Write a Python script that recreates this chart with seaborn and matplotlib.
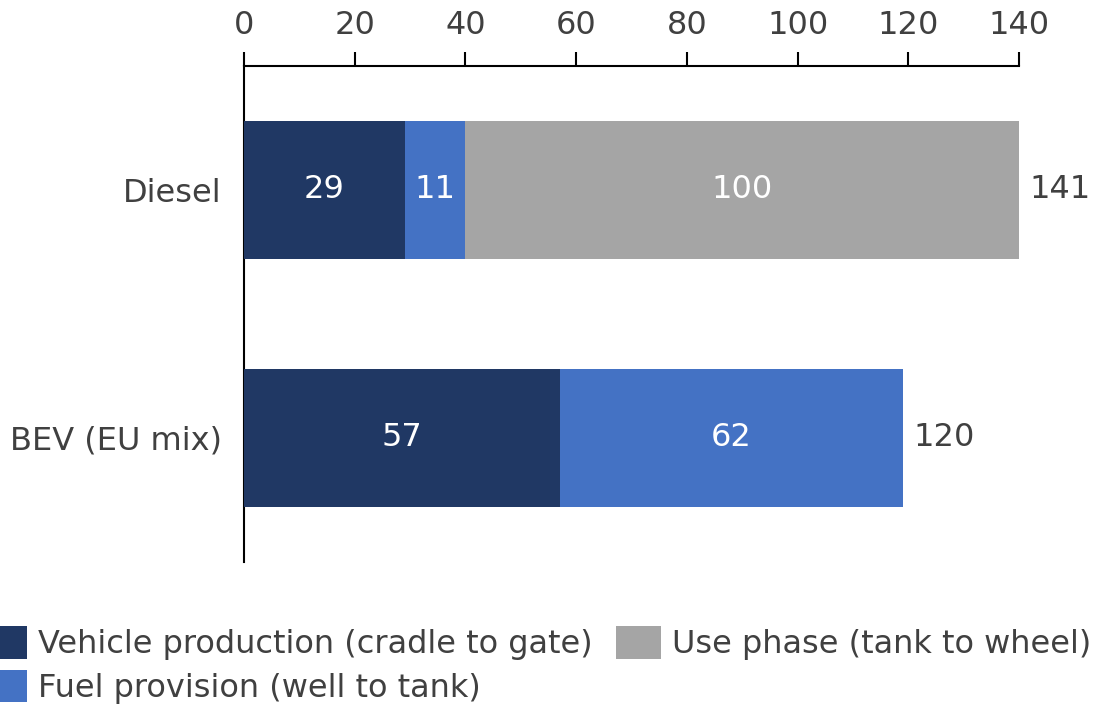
import matplotlib
matplotlib.use("Agg")
import matplotlib.pyplot as plt
import seaborn as sns
import pandas as pd
from matplotlib.patches import Patch

# Emissions per stage (g CO2e/km) for each powertrain
powertrains = ["Diesel", "BEV (EU mix)"]
vehicle_production = [29, 57]
fuel_provision = [11, 62]
use_phase = [100, 0]
total_labels = ["141", "120"]

stage_names = ["Vehicle production (cradle to gate)",
               "Fuel provision (well to tank)",
               "Use phase (tank to wheel)"]
stage_colors = ["#203864", "#4472C4", "#A5A5A5"]
x_ticks = [0, 20, 40, 60, 80, 100, 120, 140]

sns.set_theme(style="white")
plt.rcParams["font.family"] = ["DejaVu Sans"]
TEXT = "#404040"
FS = 23

df = pd.DataFrame({
    "powertrain": powertrains,
    stage_names[0]: vehicle_production,
    stage_names[1]: fuel_provision,
    stage_names[2]: use_phase,
})

fig = plt.figure(figsize=(10.94, 7.05), dpi=100)
ax = fig.add_axes([244 / 1094, 1 - 562 / 705, (1019 - 244) / 1094, (562 - 66) / 705])

left = [0] * len(powertrains)
for name, color in zip(stage_names, stage_colors):
    df["_right"] = [l + v for l, v in zip(left, df[name])]
    sns.barplot(data=df, y="powertrain", x="_right", color=color, orient="h",
                width=0.556, ax=ax, saturation=1, zorder=2)
    left = list(df["_right"])

# seaborn draws each cumulative bar from zero; keep earlier stages on top
for i, cont in enumerate(ax.containers):
    for bar in cont:
        bar.set_zorder(10 - i)
        bar.set_linewidth(0)

# segment value labels
left = [0] * len(powertrains)
for name in stage_names:
    for i, v in enumerate(df[name]):
        if v > 0:
            ax.text(left[i] + v / 2, i, f"{v}", ha="center", va="center",
                    color="white", fontsize=FS, zorder=20)
        left[i] += v
for i, t in enumerate(total_labels):
    ax.text(left[i] + 1.9, i, t, ha="left", va="center", color=TEXT, fontsize=FS)

ax.set_xlim(0, 140)
ax.set_ylim(1.5, -0.5)
ax.set_xticks(x_ticks)
ax.xaxis.tick_top()
ax.tick_params(axis="x", direction="out", length=10, width=1.5, color="black",
               labelsize=FS, labelcolor=TEXT, pad=8, top=True, bottom=False)
ax.tick_params(axis="y", length=0, labelsize=FS, labelcolor=TEXT, pad=16)
ax.set_xlabel("")
ax.set_ylabel("")
for s in ["right", "bottom"]:
    ax.spines[s].set_visible(False)
for s in ["top", "left"]:
    ax.spines[s].set_color("black")
    ax.spines[s].set_linewidth(1.5)

handles = [Patch(facecolor=c, edgecolor="none") for c in stage_colors]
fig.legend(handles, stage_names, loc="upper left",
           bbox_to_anchor=(-18 / 1094, 1 - 626 / 705),
           ncol=2, frameon=False, fontsize=FS, labelcolor=TEXT,
           handlelength=1.4, handleheight=1.2, handletextpad=0.35,
           columnspacing=0.75, labelspacing=0.3, borderpad=0, borderaxespad=0)

fig.savefig("out.png", dpi=100, facecolor="white")
